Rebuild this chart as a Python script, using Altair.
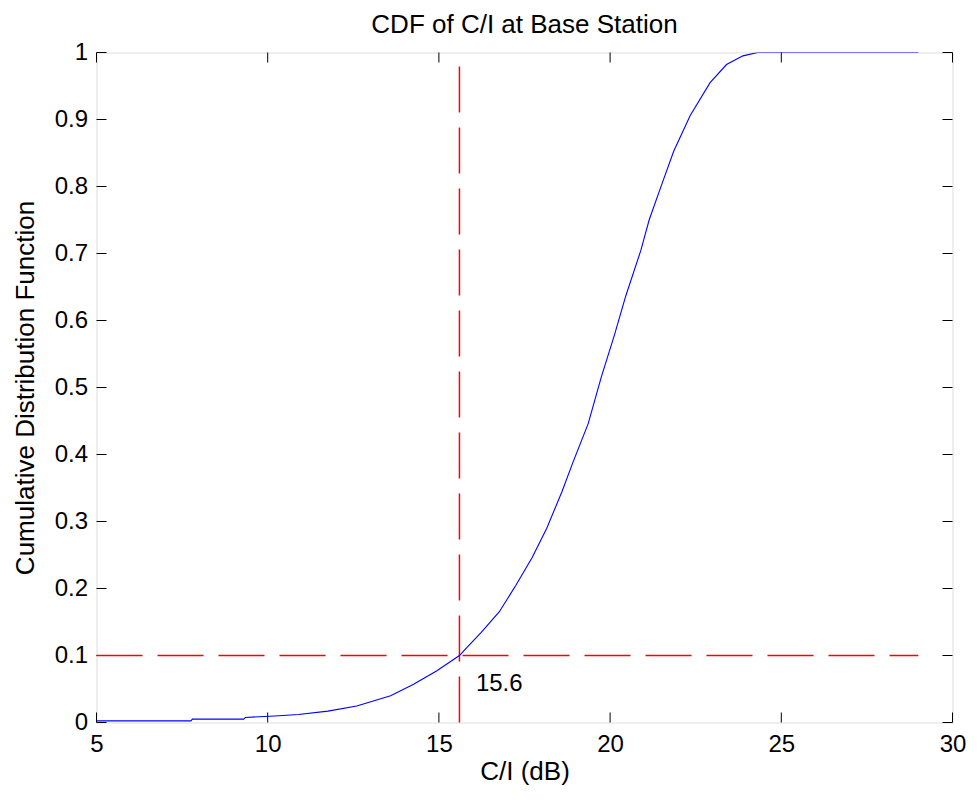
import altair as alt
import pandas as pd

# CDF curve
ci_db = [5.0, 7.76, 7.8, 9.3, 9.35, 10.2, 10.9, 11.76, 12.6, 13.59, 14.26, 14.93,
         15.6, 15.8, 16.23, 16.76, 17.24, 17.72, 18.15, 18.59, 18.92, 19.36, 19.74,
         20.13, 20.46, 20.9, 21.14, 21.48, 21.86, 22.34, 22.92, 23.4, 23.88, 24.31, 29.0]
cdf = [0.0025, 0.0025, 0.005, 0.005, 0.0075, 0.0098, 0.012, 0.017, 0.0245, 0.040,
       0.057, 0.077, 0.100, 0.111, 0.134, 0.165, 0.204, 0.246, 0.290, 0.344, 0.389,
       0.446, 0.515, 0.579, 0.637, 0.705, 0.750, 0.799, 0.853, 0.906, 0.955, 0.982,
       0.995, 1.0, 1.0]

# reference lines
threshold_x = 15.6
threshold_y = 0.1
hline_x_start = 5.0
hline_x_end = 29.0
vline_y_start = 0.0
vline_y_end = 1.0

# annotation
label_text = ["15.6"]
label_x = [16.08]
label_y = [0.057]

# ticks
x_ticks = [5, 10, 15, 20, 25, 30]
y_ticks = [0, 0.1, 0.2, 0.3, 0.4, 0.5, 0.6, 0.7, 0.8, 0.9, 1.0]

W, H = 856, 670
TICK = 10
FONT = "Liberation Sans"

xs = alt.Scale(domain=[5, 30], nice=False, zero=False)
ys = alt.Scale(domain=[0, 1], nice=False, zero=False)
xaxis = alt.Axis(values=x_ticks, title="C/I (dB)", grid=False, domain=False, ticks=False,
                 labelFontSize=24, labelPadding=10, titleFontSize=26, titlePadding=2,
                 titleFontWeight="normal", labelColor="black", titleColor="black",
                 labelFont=FONT, titleFont=FONT, labelFlush=False)
yaxis = alt.Axis(values=y_ticks, title="Cumulative Distribution Function", grid=False,
                 domain=False, ticks=False, format="~g",
                 labelFontSize=24, labelPadding=9, titleFontSize=26, titlePadding=16,
                 titleFontWeight="normal", labelColor="black", titleColor="black",
                 labelFont=FONT, titleFont=FONT, labelFlush=False)

def X(field="x"):
    return alt.X(f"{field}:Q", scale=xs, axis=xaxis)

def Y(field="y"):
    return alt.Y(f"{field}:Q", scale=ys, axis=yaxis)

curve_df = pd.DataFrame({"x": ci_db, "y": cdf})
curve = alt.Chart(curve_df).mark_line(color="#0000FF", strokeWidth=1.1, clip=True).encode(
    x=X(), y=Y())

hline_df = pd.DataFrame({"x": [hline_x_start], "x2": [hline_x_end], "y": [threshold_y]})
hline = alt.Chart(hline_df).mark_rule(color="#FF0000", strokeWidth=1.5,
                                      strokeDash=[46, 15]).encode(
    x=X(), x2="x2:Q", y=Y())

vline_df = pd.DataFrame({"x": [threshold_x], "y": [vline_y_start], "y2": [vline_y_end]})
vline = alt.Chart(vline_df).mark_rule(color="#FF0000", strokeWidth=1.5,
                                      strokeDash=[46, 15]).encode(
    x=X(), y=Y(), y2="y2:Q")

label_df = pd.DataFrame({"x": label_x, "y": label_y, "t": label_text})
label = alt.Chart(label_df).mark_text(align="left", baseline="middle", fontSize=24,
                                      font=FONT, color="black").encode(
    x=X(), y=Y(), text="t:N")

xt_df = pd.DataFrame({"x": x_ticks})
yt_df = pd.DataFrame({"y": y_ticks})
tick_color = "#000000"
xt_bottom = alt.Chart(xt_df).mark_rule(color=tick_color, strokeWidth=1).encode(
    x=X(), y=alt.value(H), y2=alt.value(H - TICK))
xt_top = alt.Chart(xt_df).mark_rule(color=tick_color, strokeWidth=1).encode(
    x=X(), y=alt.value(0), y2=alt.value(TICK))
yt_left = alt.Chart(yt_df).mark_rule(color=tick_color, strokeWidth=1).encode(
    y=Y(), x=alt.value(0), x2=alt.value(TICK))
yt_right = alt.Chart(yt_df).mark_rule(color=tick_color, strokeWidth=1).encode(
    y=Y(), x=alt.value(W), x2=alt.value(W - TICK))

chart = alt.layer(
    xt_bottom, xt_top, yt_left, yt_right, hline, vline, curve, label
).properties(
    width=W, height=H,
    title=alt.TitleParams("CDF of C/I at Base Station", fontSize=26, font=FONT,
                          fontWeight="normal", color="black", offset=3, anchor="middle"),
    autosize=alt.AutoSizeParams(type="none"),
    padding={"left": 88.5, "top": 44.5, "right": 13.5, "bottom": 63},
).configure_view(
    stroke="black", strokeWidth=1.2
).configure(background="white")

chart.save("out.html", embed_options={"renderer": "svg", "actions": False})
